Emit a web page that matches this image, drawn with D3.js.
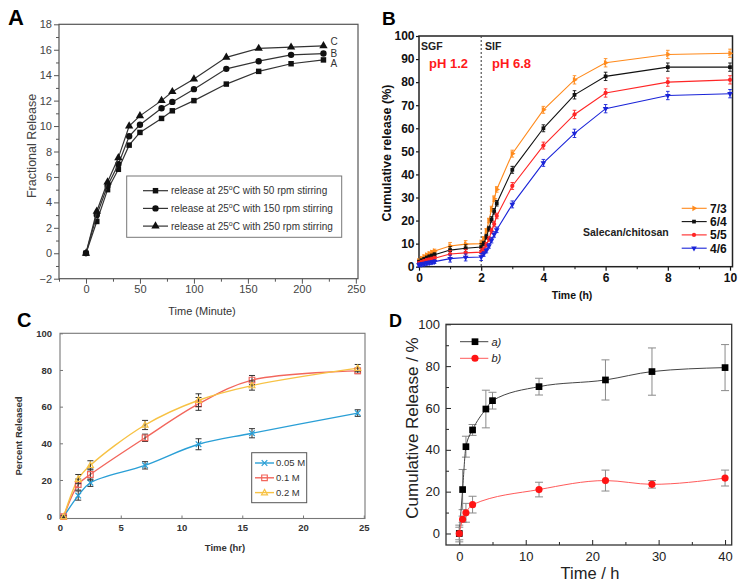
<!DOCTYPE html>
<html><head><meta charset="utf-8">
<script src="https://cdn.jsdelivr.net/npm/d3@7/dist/d3.min.js"></script>
<style>
body{margin:0;background:#fff;}
text{font-family:"Liberation Sans",Arial,sans-serif;}
</style>
</head><body>
<svg id="c" width="748" height="586"></svg>
<script>
// ---------- Panel A data ----------
const aTime = [0,10,20,30,40,50,70,80,100,130,160,190,220];
const a50  = [0,2.5,5.0,6.6,8.5,9.5,10.6,11.2,12.0,13.3,14.3,14.9,15.2];
const a150 = [0,3.0,5.3,7.0,9.2,10.1,11.4,11.9,12.9,14.5,15.1,15.6,15.7];
const a250 = [0,3.3,5.6,7.5,10.0,10.8,12.0,12.7,13.7,15.4,16.1,16.2,16.3];
const aRpm = ["50","150","250"];
const aEndLabels = ["A","B","C"];
const aXTicks = [0,50,100,150,200,250];
const aYTicks = [-2,0,2,4,6,8,10,12,14,16,18];

// ---------- Panel B data ----------
const bTime = [0,0.083,0.167,0.25,0.333,0.417,0.5,1,1.5,2,2.083,2.167,2.25,2.333,2.417,2.5,3,4,5,6,8,10];
const b73 = [2.5,3.5,4.3,5,5.6,6.2,6.8,9,9.8,10,12,15.5,20,25,29.5,33.5,49,68,81,88.4,92,92.5];
const b64 = [2,2.6,3.2,3.8,4.3,4.7,5.2,7.2,8,8.5,10,13,16.5,20.5,24,27.5,42,60,74.5,82.5,86.5,86.5];
const b55 = [1.5,1.9,2.3,2.7,3,3.3,3.7,5.5,6,6.3,7.5,9.5,12,15.5,18.5,22,35,52.5,66,75.3,80,81];
const b46 = [0.8,1,1.2,1.5,1.7,1.9,2.2,3.5,4,4.2,5.5,7,9,11.5,14,16,27,45,57.8,68.5,74.2,75];
const bErr = [0.8,0.8,0.8,0.8,0.8,0.8,0.8,1.5,1.5,1.5,1,1,1,1.2,1.2,1.2,1.5,1.5,1.8,1.8,1.8,1.8];
const bNames = ["7/3","6/4","5/5","4/6"];
const bXTicks = [0,2,4,6,8,10];
const bYTicks = [0,10,20,30,40,50,60,70,80,90,100];

// ---------- Panel C data ----------
const cTime = [0.3,1.5,2.5,7,11.4,15.8,24.5];
const c005 = [0,11.5,18.5,28,39.5,45.5,56.5];
const c01  = [0,17.5,23,43,61.5,74.5,79.5];
const c02  = [0,20.5,28,50,63.5,71.5,81];
const c005Err = [0.5,2.5,2,2,3,2.5,1.8];
const c01Err  = [0.5,3,3,2,3.5,2.5,1.5];
const c02Err  = [0.5,2.5,2.5,2.5,3.5,2.5,2];
const cNames = ["0.05 M","0.1 M","0.2 M"];
const cXTicks = [0,5,10,15,20,25];
const cYTicks = [0,20,40,60,80,100];

// ---------- Panel D data ----------
const dTimeA = [0,0.5,1,2,4,5,12,22,29,40];
const dA     = [0,21,41.5,49.5,59.5,63.5,70.2,73.4,77.4,79.3];
const dAErr  = [4,9.6,5,2.6,9,4,4,9.6,11.3,11];
const dTimeB = [0,0.5,1,2,12,22,29,40];
const dB     = [0,6.8,9.9,13.8,21,25.3,23.5,26.5];
const dBErr  = [3,1.5,4.5,4,3.5,5,1.8,3.8];
const dNames = ["a)","b)"];
const dXTicks = [0,10,20,30,40];
const dYTicks = [0,20,40,60,80,100];

const svg = d3.select("#c");

function frame(g,x,y,stroke,sw){
  const [x0,x1]=x.range(), [y0,y1]=y.range();
  g.append("rect").attr("x",Math.min(x0,x1)).attr("y",Math.min(y0,y1))
   .attr("width",Math.abs(x1-x0)).attr("height",Math.abs(y1-y0))
   .attr("fill","none").attr("stroke",stroke).attr("stroke-width",sw);
}
function styleAxis(sel,color,sw,font,weight,fill){
  sel.select(".domain").remove();
  sel.selectAll(".tick line").attr("stroke",color).attr("stroke-width",sw);
  sel.selectAll(".tick text").attr("font-size",font).attr("font-weight",weight)
     .attr("fill",fill).attr("font-family","Liberation Sans, Arial, sans-serif");
}
function minor(g,axisGen,transform,color,sw){
  const m=g.append("g").attr("transform",transform).call(axisGen);
  m.select(".domain").remove();
  m.selectAll(".tick text").remove();
  m.selectAll(".tick line").attr("stroke",color).attr("stroke-width",sw);
}
const sym = (type,size)=>d3.symbol().type(type).size(size)();

// =================== PANEL A ===================
(function(){
  const g = svg.append("g");
  const x = d3.scaleLinear().domain([-25,252]).range([59,358]);
  const y = d3.scaleLinear().domain([-2,18]).range([278.7,24.3]);
  const axc="#555";
  const ya = g.append("g").attr("transform",`translate(${x.range()[0]},0)`)
    .call(d3.axisLeft(y).tickValues(aYTicks).tickSize(5).tickPadding(2));
  styleAxis(ya,axc,1,11,"normal","#444");
  minor(g,d3.axisLeft(y).tickValues(d3.range(-1,18,2)).tickSize(3),`translate(${x.range()[0]},0)`,axc,1);
  const xa = g.append("g").attr("transform",`translate(0,${y.range()[0]})`)
    .call(d3.axisBottom(x).tickValues(aXTicks).tickSize(5).tickPadding(2));
  styleAxis(xa,axc,1,11,"normal","#444");
  minor(g,d3.axisBottom(x).tickValues([-25,25,75,125,175,225]).tickSize(3),`translate(0,${y.range()[0]})`,axc,1);
  frame(g,x,y,axc,1.2);

  const series=[a50,a150,a250];
  const shapes=[d3.symbolSquare,d3.symbolCircle,d3.symbolTriangle];
  const sizes=[30,32,30];
  const endOffsets=[7.5,3,-1];
  const line=d3.line().x((d,i)=>x(aTime[i])).y(d=>y(d));
  series.forEach((s,k)=>{
    g.append("path").attr("d",line(s)).attr("fill","none").attr("stroke","#333").attr("stroke-width",1.2);
    g.selectAll(null).data(s).enter().append("path")
      .attr("transform",(d,i)=>`translate(${x(aTime[i])},${y(d)})`)
      .attr("d",sym(shapes[k],sizes[k])).attr("fill","#111");
    g.append("text").attr("x",x(aTime[aTime.length-1])+7).attr("y",y(s[s.length-1])+endOffsets[k])
      .attr("font-size",10).attr("fill","#333").text(aEndLabels[k]);
  });
  // legend
  const lg=g.append("g");
  lg.append("rect").attr("x",126.7).attr("y",176).attr("width",215).attr("height",61.3)
    .attr("fill","#fff").attr("stroke","#777").attr("stroke-width",1);
  aRpm.forEach((r,k)=>{
    const yy=190.7+k*17.7;
    lg.append("line").attr("x1",143).attr("x2",168).attr("y1",yy).attr("y2",yy).attr("stroke","#333").attr("stroke-width",1.2);
    lg.append("path").attr("transform",`translate(155.5,${yy})`).attr("d",sym(shapes[k],sizes[k])).attr("fill","#111");
    const t=lg.append("text").attr("x",171).attr("y",yy+3.5).attr("font-size",10).attr("fill","#333");
    t.append("tspan").text("release at 25");
    t.append("tspan").attr("dy",-4).attr("font-size",7).text("o");
    t.append("tspan").attr("dy",4).text(`C with ${r} rpm stirring`);
  });
  g.append("text").attr("transform","translate(36,146) rotate(-90)").attr("text-anchor","middle")
    .attr("font-size",12.5).attr("fill","#444").text("Fractional Release");
  g.append("text").attr("x",202).attr("y",315).attr("text-anchor","middle")
    .attr("font-size",11).attr("fill","#333").text("Time (Minute)");
  g.append("text").attr("x",8).attr("y",25).attr("font-size",22).attr("font-weight","bold").text("A");
})();

// =================== PANEL B ===================
(function(){
  const g = svg.append("g");
  const x = d3.scaleLinear().domain([0,10.08]).range([419,732.5]);
  const y = d3.scaleLinear().domain([0,100]).range([266.7,36]);
  const ya = g.append("g").attr("transform",`translate(${x.range()[0]},0)`)
    .call(d3.axisLeft(y).tickValues(bYTicks).tickSize(3).tickPadding(1.5));
  styleAxis(ya,"#111",1.2,12,"bold","#111");
  const xa = g.append("g").attr("transform",`translate(0,${y.range()[0]})`)
    .call(d3.axisBottom(x).tickValues(bXTicks).tickSize(4).tickPadding(3));
  styleAxis(xa,"#111",1.2,12,"bold","#111");
  minor(g,d3.axisBottom(x).tickValues([1,3,5,7,9]).tickSize(2.5),`translate(0,${y.range()[0]})`,"#111",1);
  frame(g,x,y,"#222",1.5);

  g.append("line").attr("x1",x(2)).attr("x2",x(2)).attr("y1",y(100)).attr("y2",y(0))
    .attr("stroke","#444").attr("stroke-width",1.1).attr("stroke-dasharray","2,2");
  g.append("text").attr("x",421).attr("y",50).attr("font-size",10.5).attr("font-weight","bold").attr("fill","#222").text("SGF");
  g.append("text").attr("x",485).attr("y",50).attr("font-size",10.5).attr("font-weight","bold").attr("fill","#222").text("SIF");
  g.append("text").attr("x",429).attr("y",68).attr("font-size",13).attr("font-weight","bold").attr("fill","#ff1a1a").text("pH 1.2");
  g.append("text").attr("x",492).attr("y",68).attr("font-size",13).attr("font-weight","bold").attr("fill","#ff1a1a").text("pH 6.8");

  const series=[b73,b64,b55,b46];
  const colors=["#ff8a1c","#111111","#ff2626","#1a24d8"];
  const shapes=[d3.symbolTriangle,d3.symbolSquare,d3.symbolCircle,d3.symbolTriangle];
  const rots=[90,0,0,180];
  const line=d3.line().x((d,i)=>x(bTime[i])).y(d=>y(d));
  series.forEach((s,k)=>{
    g.append("path").attr("d",line(s)).attr("fill","none").attr("stroke",colors[k]).attr("stroke-width",1.1);
    s.forEach((v,i)=>{
      const xx=x(bTime[i]), e=bErr[i];
      g.append("path").attr("d",`M${xx},${y(v-e)}V${y(v+e)}M${xx-1.8},${y(v-e)}H${xx+1.8}M${xx-1.8},${y(v+e)}H${xx+1.8}`)
        .attr("stroke",colors[k]).attr("stroke-width",0.9).attr("fill","none");
      g.append("path").attr("transform",`translate(${xx},${y(v)}) rotate(${rots[k]})`)
        .attr("d",sym(shapes[k],14)).attr("fill",colors[k]);
    });
  });
  // legend
  bNames.forEach((n,k)=>{
    const yy=208.3+k*13.3;
    g.append("line").attr("x1",681.7).attr("x2",706.7).attr("y1",yy).attr("y2",yy).attr("stroke",colors[k]).attr("stroke-width",1.1);
    g.append("path").attr("transform",`translate(694,${yy}) rotate(${rots[k]})`).attr("d",sym(shapes[k],14)).attr("fill",colors[k]);
    g.append("text").attr("x",710).attr("y",yy+4.3).attr("font-size",12).attr("font-weight","bold").attr("fill","#111").text(n);
  });
  g.append("text").attr("x",583).attr("y",236).attr("font-size",10.5).attr("font-weight","bold").attr("fill","#222").text("Salecan/chitosan");
  g.append("text").attr("transform","translate(391,153) rotate(-90)").attr("text-anchor","middle")
    .attr("font-size",12.5).attr("font-weight","bold").attr("fill","#111").text("Cumulative release (%)");
  g.append("text").attr("x",572).attr("y",299).attr("text-anchor","middle")
    .attr("font-size",10.5).attr("font-weight","bold").attr("fill","#111").text("Time (h)");
  g.append("text").attr("x",382).attr("y",25).attr("font-size",19).attr("font-weight","bold").text("B");
})();

// =================== PANEL C ===================
(function(){
  const g = svg.append("g");
  const x = d3.scaleLinear().domain([0,25.1]).range([60,365]);
  const y = d3.scaleLinear().domain([-1,100]).range([518.5,333.3]);
  const axc="#777";
  const ya = g.append("g").attr("transform",`translate(${x.range()[0]},0)`)
    .call(d3.axisLeft(y).tickValues(cYTicks).tickSizeInner(-3).tickSizeOuter(0).tickPadding(8));
  styleAxis(ya,axc,1,9.5,"bold","#333");
  const xa = g.append("g").attr("transform",`translate(0,${y.range()[0]})`)
    .call(d3.axisBottom(x).tickValues(cXTicks).tickSizeInner(-3).tickSizeOuter(0).tickPadding(6));
  styleAxis(xa,axc,1,9.5,"bold","#333");
  frame(g,x,y,axc,1.1);

  const series=[c005,c01,c02];
  const errs=[c005Err,c01Err,c02Err];
  const colors=["#2a9fd6","#f2665c","#f7c244"];
  const line=d3.line().x((d,i)=>x(cTime[i])).y(d=>y(d)).curve(d3.curveCatmullRom.alpha(0.5));
  series.forEach((s,k)=>{
    g.append("path").attr("d",line(s)).attr("fill","none").attr("stroke",colors[k]).attr("stroke-width",1.4);
  });
  const markerPath=[ "M-2.8,-2.8L2.8,2.8M-2.8,2.8L2.8,-2.8", "M-2.8,-2.8H2.8V2.8H-2.8Z", "M0,-3.2L3,2.2H-3Z" ];
  series.forEach((s,k)=>{
    s.forEach((v,i)=>{
      const xx=x(cTime[i]), e=errs[k][i];
      g.append("path").attr("d",`M${xx},${y(v-e)}V${y(v+e)}M${xx-3},${y(v-e)}H${xx+3}M${xx-3},${y(v+e)}H${xx+3}`)
        .attr("stroke","#333").attr("stroke-width",1).attr("fill","none");
      g.append("path").attr("transform",`translate(${xx},${y(v)})`).attr("d",markerPath[k])
        .attr("fill","none").attr("stroke",colors[k]).attr("stroke-width",1.2);
    });
  });
  // legend
  g.append("rect").attr("x",251.7).attr("y",452.7).attr("width",55).attr("height",50)
    .attr("fill","#fff").attr("stroke","#555").attr("stroke-width",1);
  cNames.forEach((n,k)=>{
    const yy=463+k*14.8;
    g.append("line").attr("x1",255).attr("x2",274).attr("y1",yy).attr("y2",yy).attr("stroke",colors[k]).attr("stroke-width",1.4);
    g.append("path").attr("transform",`translate(264.5,${yy})`).attr("d",markerPath[k])
      .attr("fill","none").attr("stroke",colors[k]).attr("stroke-width",1.2);
    g.append("text").attr("x",276).attr("y",yy+3.4).attr("font-size",9.5).attr("fill","#333").text(n);
  });
  g.append("text").attr("transform","translate(22,436) rotate(-90)").attr("text-anchor","middle")
    .attr("font-size",9.5).attr("font-weight","bold").attr("fill","#333").text("Percent Released");
  g.append("text").attr("x",225).attr("y",550.5).attr("text-anchor","middle")
    .attr("font-size",9.5).attr("font-weight","bold").attr("fill","#333").text("Time (hr)");
  g.append("text").attr("x",17).attr("y",327).attr("font-size",20).attr("font-weight","bold").text("C");
})();

// =================== PANEL D ===================
(function(){
  const g = svg.append("g");
  const x = d3.scaleLinear().domain([-2,41]).range([446,731.7]);
  const y = d3.scaleLinear().domain([-5.5,100]).range([545,324.3]);
  const axc="#222";
  const ya = g.append("g").attr("transform",`translate(${x.range()[0]},0)`)
    .call(d3.axisLeft(y).tickValues(dYTicks).tickSizeInner(-5).tickSizeOuter(0).tickPadding(6));
  styleAxis(ya,axc,1,13,"normal","#222");
  minor(g,d3.axisLeft(y).tickValues([10,30,50,70,90]).tickSizeInner(-3).tickSizeOuter(0),`translate(${x.range()[0]},0)`,axc,1);
  const xa = g.append("g").attr("transform",`translate(0,${y.range()[0]})`)
    .call(d3.axisBottom(x).tickValues(dXTicks).tickSizeInner(-5).tickSizeOuter(0).tickPadding(7));
  styleAxis(xa,axc,1,13,"normal","#222");
  minor(g,d3.axisBottom(x).tickValues([5,15,25,35]).tickSizeInner(-3).tickSizeOuter(0),`translate(0,${y.range()[0]})`,axc,1);
  frame(g,x,y,"#333",1.3);

  const sets=[[dTimeA,dA,dAErr,"#444","#000",d3.symbolSquare,45],[dTimeB,dB,dBErr,"#ff5a5a","#ff1414",d3.symbolCircle,40]];
  sets.forEach(([tx,vals,er,lc,mc,sh,sz])=>{
    const line=d3.line().x((d,i)=>x(tx[i])).y(d=>y(d)).curve(d3.curveMonotoneX);
    vals.forEach((v,i)=>{
      const xx=x(tx[i]), e=er[i];
      g.append("path").attr("d",`M${xx},${y(v-e)}V${y(v+e)}M${xx-4},${y(v-e)}H${xx+4}M${xx-4},${y(v+e)}H${xx+4}`)
        .attr("stroke","#8a8a8a").attr("stroke-width",1).attr("fill","none");
    });
    g.append("path").attr("d",line(vals)).attr("fill","none").attr("stroke",lc).attr("stroke-width",1);
    vals.forEach((v,i)=>{
      g.append("path").attr("transform",`translate(${x(tx[i])},${y(v)})`).attr("d",sym(sh,sz)).attr("fill",mc);
    });
  });
  // legend
  [["#444","#000",d3.symbolSquare,45],["#ff5a5a","#ff1414",d3.symbolCircle,40]].forEach(([lc,mc,sh,sz],k)=>{
    const yy=341.7+k*16.6;
    g.append("line").attr("x1",460).attr("x2",488.3).attr("y1",yy).attr("y2",yy).attr("stroke",lc).attr("stroke-width",1);
    g.append("path").attr("transform",`translate(475,${yy})`).attr("d",sym(sh,sz)).attr("fill",mc);
    g.append("text").attr("x",491.5).attr("y",yy+4).attr("font-size",11).attr("font-style","italic").attr("fill","#222").text(dNames[k]);
  });
  g.append("text").attr("transform","translate(417.5,428) rotate(-90)").attr("text-anchor","middle")
    .attr("font-size",17).attr("fill","#222").text("Cumulative Release / %");
  g.append("text").attr("x",590).attr("y",579).attr("text-anchor","middle")
    .attr("font-size",16.5).attr("fill","#222").text("Time / h");
  g.append("text").attr("x",389).attr("y",327).attr("font-size",18).attr("font-weight","bold").text("D");
})();
</script>
</body></html>
